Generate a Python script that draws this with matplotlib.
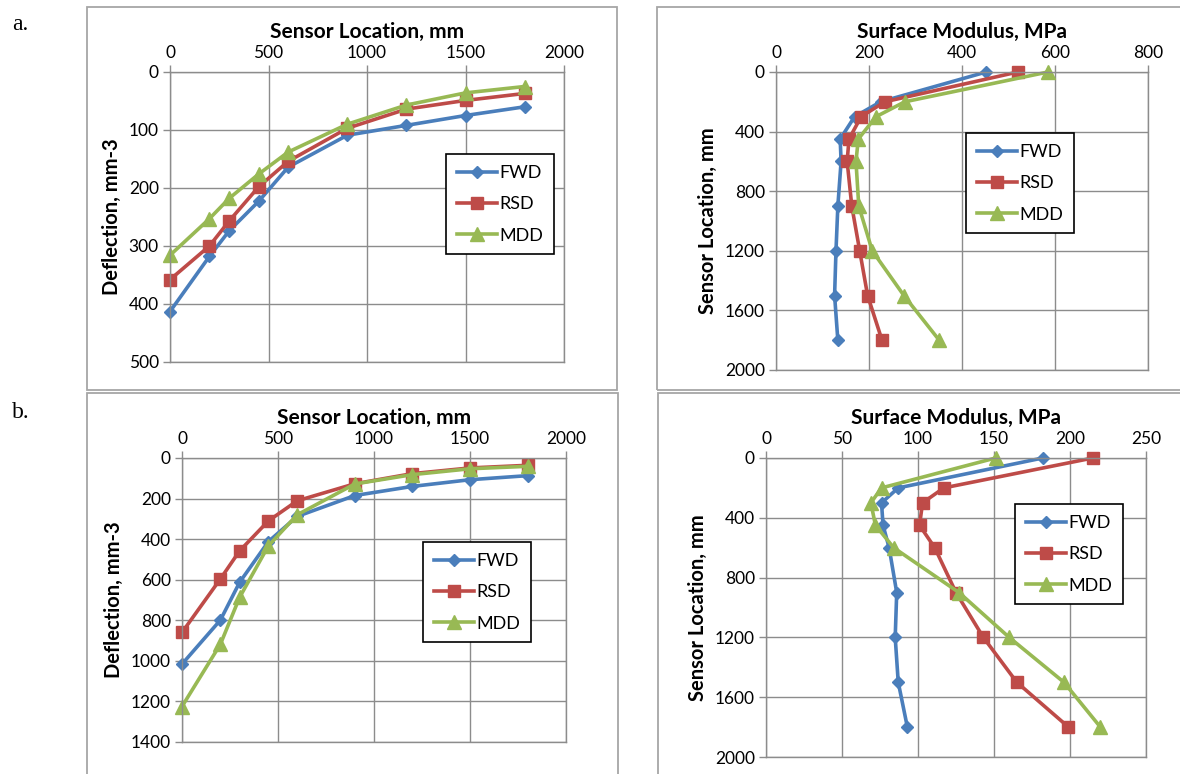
import matplotlib.pyplot as plt
from matplotlib.patches import Rectangle

# sensor positions (mm)
sensor = [0, 200, 300, 450, 600, 900, 1200, 1500, 1800]

# a. deflection basins
a_fwd = [413, 318, 274, 223, 164, 109, 92, 75, 60]
a_rsd = [358, 300, 257, 198, 154, 97, 64, 49, 37]
a_mdd = [316, 253, 218, 176, 138, 90, 57, 36, 25]

# a. surface modulus
a_mod_fwd = [452, 225, 169, 138, 140, 133, 129, 126, 133]
a_mod_rsd = [520, 234, 183, 157, 153, 163, 180, 197, 228]
a_mod_mdd = [585, 277, 215, 177, 172, 178, 207, 275, 351]

# b. deflection basins
b_fwd = [1016, 799, 613, 412, 288, 185, 140, 107, 87]
b_rsd = [860, 596, 458, 310, 211, 127, 77, 49, 36]
b_mdd = [1225, 918, 687, 433, 280, 128, 82, 53, 41]

# b. surface modulus
b_mod_fwd = [182, 87, 76, 77, 81, 86, 85, 87, 93]
b_mod_rsd = [215, 117, 103, 101, 111, 125, 143, 165, 199]
b_mod_mdd = [151, 76, 69, 72, 84, 127, 160, 196, 220]

names = ['FWD', 'RSD', 'MDD']
colors = ['#4a7ebb', '#be4b48', '#98b954']
markers = ['D', 's', '^']
msizes = [6.5, 9, 10]

W, H = 1180, 774
fig = plt.figure(figsize=(W / 100, H / 100), dpi=100)
plt.rcParams['font.family'] = ['Lato', 'DejaVu Sans']

GRID = '#8c8c8c'


def rect(x0, y0, x1, y1):
    return [x0 / W, 1 - y1 / H, (x1 - x0) / W, (y1 - y0) / H]


# grey frames around each chart
for x0, y0, x1, y1 in [(87, 7, 617, 390), (657, 7, 1190, 390),
                       (87, 393, 618, 790), (658, 393, 1190, 790)]:
    fig.patches.append(Rectangle((x0 / W, 1 - y1 / H), (x1 - x0) / W, (y1 - y0) / H,
                                 transform=fig.transFigure, fill=False,
                                 edgecolor='#a6a6a6', linewidth=1.3))

fig.text(12 / W, 1 - 25 / H, 'a.', family='Liberation Serif', fontsize=17, va='center')
fig.text(12 / W, 1 - 412 / H, 'b.', family='Liberation Serif', fontsize=17, va='center')


def style(ax, xlabel, ylabel, xlim, xstep, ylim, ystep, leg_xy):
    ax.set_xlim(*xlim)
    ax.set_ylim(ylim[1], ylim[0])
    ax.set_xticks(range(xlim[0], xlim[1] + 1, xstep))
    ax.set_yticks(range(ylim[0], ylim[1] + 1, ystep))
    ax.xaxis.tick_top()
    ax.xaxis.set_label_position('top')
    ax.set_xlabel(xlabel, fontsize=15, fontweight='bold', labelpad=5)
    ax.set_ylabel(ylabel, fontsize=14.5, fontweight='bold', labelpad=5)
    ax.grid(True, color=GRID, linewidth=1.0)
    ax.set_axisbelow(True)
    for s in ax.spines.values():
        s.set_color(GRID)
        s.set_linewidth(1.0)
    ax.tick_params(axis='both', colors=GRID, labelcolor='black', labelsize=12.5,
                   length=5, width=1.0, direction='out', pad=3)
    ax.tick_params(axis='x', top=True, bottom=False)
    leg = ax.legend(loc='upper left', bbox_to_anchor=(leg_xy[0] / W, 1 - leg_xy[1] / H),
                    bbox_transform=fig.transFigure, fontsize=13, frameon=True,
                    fancybox=False, edgecolor='black', framealpha=1,
                    handlelength=2.2, handletextpad=0.15, labelspacing=0.85,
                    borderpad=0.6, borderaxespad=0)
    leg.get_frame().set_linewidth(1.2)


def draw_basin(ax, series):
    for vals, n, c, m, ms in zip(series, names, colors, markers, msizes):
        ax.plot(sensor, vals, color=c, marker=m, markersize=ms, linewidth=2.6,
                label=n, clip_on=False)


def draw_modulus(ax, series):
    for vals, n, c, m, ms in zip(series, names, colors, markers, msizes):
        ax.plot(vals, sensor, color=c, marker=m, markersize=ms, linewidth=2.6,
                label=n, clip_on=False)


ax1 = fig.add_axes(rect(170, 72, 564, 362))
draw_basin(ax1, [a_fwd, a_rsd, a_mdd])
style(ax1, 'Sensor Location, mm', 'Deflection, mm-3', (0, 2000), 500, (0, 500), 100, (446, 154))

ax2 = fig.add_axes(rect(776, 72, 1148, 370))
draw_modulus(ax2, [a_mod_fwd, a_mod_rsd, a_mod_mdd])
style(ax2, 'Surface Modulus, MPa', 'Sensor Location, mm', (0, 800), 200, (0, 2000), 400, (966, 133))

ax3 = fig.add_axes(rect(182, 458, 566, 742))
draw_basin(ax3, [b_fwd, b_rsd, b_mdd])
style(ax3, 'Sensor Location, mm', 'Deflection, mm-3', (0, 2000), 500, (0, 1400), 200, (423, 542))

ax4 = fig.add_axes(rect(766, 458, 1146, 757))
draw_modulus(ax4, [b_mod_fwd, b_mod_rsd, b_mod_mdd])
style(ax4, 'Surface Modulus, MPa', 'Sensor Location, mm', (0, 250), 50, (0, 2000), 400, (1015, 504))

fig.savefig('out.png', dpi=100)
